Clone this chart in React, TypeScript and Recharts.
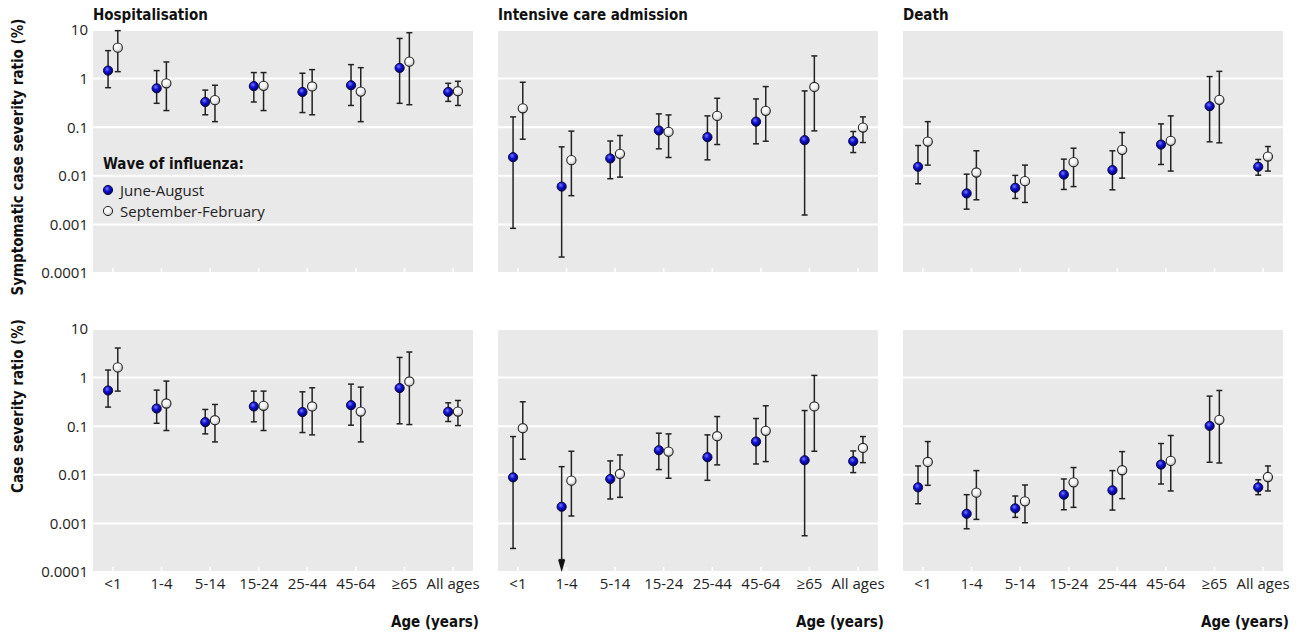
import React from 'react';
import { ScatterChart, Scatter, XAxis, YAxis, CartesianGrid, ErrorBar } from 'recharts';

const ages = ['<1', '1-4', '5-14', '15-24', '25-44', '45-64', '≥65', 'All ages'];
const yTicks = [0.0001, 0.001, 0.01, 0.1, 1, 10];

// [estimate, lower, upper] per age group
const hospSymJune = [[1.46, 0.65, 3.76], [0.63, 0.31, 1.46], [0.33, 0.18, 0.58], [0.7, 0.33, 1.33], [0.53, 0.2, 1.29], [0.73, 0.28, 1.94], [1.66, 0.31, 6.7], [0.53, 0.34, 0.8]];
const hospSymSept = [[4.33, 1.39, 9.7], [0.8, 0.22, 2.2], [0.36, 0.13, 0.73], [0.71, 0.22, 1.33], [0.69, 0.18, 1.53], [0.54, 0.13, 1.68], [2.23, 0.29, 8.8], [0.55, 0.28, 0.88]];
const icuSymJune = [[0.0242, 0.00083, 0.163], [0.006, 0.000213, 0.0394], [0.0227, 0.0087, 0.052], [0.0855, 0.0359, 0.188], [0.0624, 0.0213, 0.171], [0.13, 0.0455, 0.382], [0.054, 0.00156, 0.558], [0.0515, 0.0301, 0.0815]];
const icuSymSept = [[0.245, 0.0566, 0.84], [0.021, 0.0039, 0.083], [0.0283, 0.0094, 0.0674], [0.08, 0.0238, 0.179], [0.171, 0.044, 0.394], [0.217, 0.0515, 0.685], [0.674, 0.084, 2.93], [0.0984, 0.0484, 0.163]];
const deathSymJune = [[0.0153, 0.00686, 0.042], [0.00434, 0.00206, 0.0108], [0.00566, 0.00342, 0.0102], [0.0106, 0.00524, 0.022], [0.0131, 0.00515, 0.0327], [0.044, 0.0171, 0.117], [0.27, 0.05, 1.1], [0.0153, 0.0103, 0.0217]];
const deathSymSept = [[0.0507, 0.0166, 0.13], [0.0117, 0.00321, 0.0327], [0.00776, 0.00283, 0.0166], [0.0191, 0.006, 0.037], [0.0342, 0.00895, 0.0776], [0.0524, 0.0125, 0.171], [0.365, 0.0477, 1.41], [0.0249, 0.0125, 0.04]];
const hospAllJune = [[0.543, 0.247, 1.43], [0.231, 0.115, 0.552], [0.121, 0.0695, 0.221], [0.255, 0.123, 0.527], [0.195, 0.074, 0.51], [0.271, 0.105, 0.734], [0.608, 0.112, 2.6], [0.198, 0.125, 0.303]];
const hospAllSept = [[1.62, 0.527, 4.06], [0.293, 0.0815, 0.847], [0.133, 0.0475, 0.28], [0.263, 0.0815, 0.527], [0.255, 0.0663, 0.617], [0.2, 0.0475, 0.637], [0.834, 0.108, 3.36], [0.2, 0.103, 0.338]];
// 1-4 lower bound runs off the axis: bar stops at the arrow base
const icuAllJune = [[0.00887, 0.000305, 0.0612], [0.0022, 0.00018, 0.0147], [0.0082, 0.00318, 0.0193], [0.032, 0.0128, 0.0718], [0.023, 0.0077, 0.0663], [0.0483, 0.0167, 0.144], [0.0199, 0.000557, 0.21], [0.019, 0.0111, 0.031]];
const icuAllSept = [[0.091, 0.0209, 0.318], [0.00758, 0.00142, 0.0305], [0.0104, 0.00344, 0.0256], [0.03, 0.00848, 0.0695], [0.0622, 0.016, 0.158], [0.0802, 0.0187, 0.263], [0.255, 0.0305, 1.11], [0.0357, 0.0178, 0.0612]];
const deathAllJune = [[0.00552, 0.00254, 0.0152], [0.00158, 0.000776, 0.0039], [0.00204, 0.00133, 0.00366], [0.0039, 0.00191, 0.0082], [0.00479, 0.00188, 0.0122], [0.0162, 0.00647, 0.044], [0.1016, 0.0181, 0.416], [0.00552, 0.0039, 0.0079]];
const deathAllSept = [[0.0184, 0.00608, 0.0483], [0.00429, 0.00121, 0.0122], [0.00284, 0.00103, 0.00617], [0.007, 0.00214, 0.0141], [0.0124, 0.00323, 0.03], [0.0193, 0.00465, 0.0643], [0.135, 0.0175, 0.543], [0.009, 0.00465, 0.0152]];
const icuAllArrows = [1];

const FONT = '"Open Sans", "Noto Sans", sans-serif';
const BOLD = '"DejaVu Sans Condensed", "DejaVu Sans", sans-serif';

const panels = [
  { title: 'Hospitalisation', row: 0, col: 0, june: hospSymJune, sept: hospSymSept, arrows: [] as number[] },
  { title: 'Intensive care admission', row: 0, col: 1, june: icuSymJune, sept: icuSymSept, arrows: [] as number[] },
  { title: 'Death', row: 0, col: 2, june: deathSymJune, sept: deathSymSept, arrows: [] as number[] },
  { title: '', row: 1, col: 0, june: hospAllJune, sept: hospAllSept, arrows: [] as number[] },
  { title: '', row: 1, col: 1, june: icuAllJune, sept: icuAllSept, arrows: icuAllArrows },
  { title: '', row: 1, col: 2, june: deathAllJune, sept: deathAllSept, arrows: [] as number[] },
];

const colLeft = [0, 488, 893];
const rowTop = [20, 319];
const plotLeft = [93, 498, 903];
const PLOT_W = 380;

function toPoints(rows: number[][], shift: number) {
  return rows.map(([v, lo, hi], i) => ({ x: i + shift, y: v, err: [v - lo, hi - v] }));
}

const BlueDot = (p: any) => (
  <circle cx={p.cx} cy={p.cy} r={4.6} fill="url(#gBlue)" stroke="#0a0a40" strokeWidth={1} />
);
const WhiteDot = (p: any) => (
  <circle cx={p.cx} cy={p.cy} r={4.6} fill="url(#gWhite)" stroke="#222" strokeWidth={1.1} />
);
const ArrowDown = (p: any) => (
  <polygon points={`${p.cx - 3.5},${p.cy - 12} ${p.cx + 3.5},${p.cy - 12} ${p.cx},${p.cy}`} fill="#111" />
);

function AgeTick(props: any) {
  const { x, y, payload, showLabel } = props;
  return (
    <g>
      <line x1={x} x2={x} y1={y - 5} y2={y} stroke="#fff" strokeWidth={1.5} />
      {showLabel && (
        <text x={x} y={y + 17} textAnchor="middle" fontFamily={FONT} fontSize={15} fill="#222">
          {ages[payload.value]}
        </text>
      )}
    </g>
  );
}

function Panel({ cfg }: { cfg: typeof panels[number] }) {
  const isLeft = cfg.col === 0;
  const june = toPoints(cfg.june, -0.1);
  const sept = toPoints(cfg.sept, 0.1);
  const arrows = cfg.arrows.map((i) => ({ x: i - 0.1, y: 0.0001 }));
  return (
    <div style={{ position: 'absolute', left: colLeft[cfg.col], top: rowTop[cfg.row] }}>
      <ScatterChart
        width={isLeft ? 483 : 400}
        height={283}
        margin={{ top: 10, right: 10, bottom: 0, left: isLeft ? 0 : 10 }}
      >
        <defs>
          <radialGradient id="gBlue" cx="40%" cy="35%" r="65%">
            <stop offset="0%" stopColor="#7a7aff" />
            <stop offset="45%" stopColor="#1212d6" />
            <stop offset="100%" stopColor="#00006a" />
          </radialGradient>
          <radialGradient id="gWhite" cx="40%" cy="35%" r="65%">
            <stop offset="0%" stopColor="#ffffff" />
            <stop offset="55%" stopColor="#f2f2f2" />
            <stop offset="100%" stopColor="#b8b8b8" />
          </radialGradient>
        </defs>
        <CartesianGrid vertical={false} fill="#e9e9e9" fillOpacity={1} stroke="#ffffff" strokeWidth={2} />
        <XAxis
          type="number"
          dataKey="x"
          domain={[-0.41, 7.41]}
          ticks={[0, 1, 2, 3, 4, 5, 6, 7]}
          allowDataOverflow
          interval={0}
          axisLine={false}
          tickLine={false}
          tickSize={0}
          tickMargin={0}
          height={30}
          tick={(p: any) => <AgeTick {...p} showLabel={cfg.row === 1} />}
        />
        <YAxis
          type="number"
          dataKey="y"
          scale="log"
          domain={[0.0001, 10]}
          ticks={yTicks}
          interval={0}
          hide={!isLeft}
          width={93}
          axisLine={false}
          tickLine={false}
          tickSize={0}
          tickMargin={5}
          tick={{ fontFamily: FONT, fontSize: 15, fill: '#222' }}
          tickFormatter={(v: number) => String(v)}
        />
        <Scatter data={june} shape={BlueDot} isAnimationActive={false}>
          <ErrorBar dataKey="err" direction="y" width={3} stroke="#222" strokeWidth={1.5} />
        </Scatter>
        <Scatter data={sept} shape={WhiteDot} isAnimationActive={false}>
          <ErrorBar dataKey="err" direction="y" width={3} stroke="#222" strokeWidth={1.5} />
        </Scatter>
        {arrows.length > 0 && <Scatter data={arrows} shape={ArrowDown} isAnimationActive={false} />}
      </ScatterChart>
    </div>
  );
}

const boldText: React.CSSProperties = {
  position: 'absolute',
  fontFamily: BOLD,
  fontWeight: 700,
  fontSize: 15,
  color: '#111',
  whiteSpace: 'nowrap',
  lineHeight: '18px',
};

export default function App() {
  return (
    <div style={{ position: 'absolute', left: 0, top: 0, width: 1301, height: 635, background: '#fff' }}>
      {panels.map((cfg, i) => (
        <Panel key={i} cfg={cfg} />
      ))}
      {panels.filter((p) => p.title).map((p) => (
        <div key={p.title} style={{ ...boldText, left: plotLeft[p.col], top: 6 }}>{p.title}</div>
      ))}
      {plotLeft.map((l, i) => (
        <div key={i} style={{ ...boldText, left: l + PLOT_W + 6, top: 622, transform: 'translate(-100%, -50%)' }}>
          Age (years)
        </div>
      ))}
      <div style={{ ...boldText, left: 18, top: 157, transform: 'translate(-50%, -50%) rotate(-90deg)' }}>
        Symptomatic case severity ratio (%)
      </div>
      <div style={{ ...boldText, left: 18, top: 406, transform: 'translate(-50%, -50%) rotate(-90deg)' }}>
        Case severity ratio (%)
      </div>
      <div style={{ ...boldText, left: 103, top: 164, transform: 'translateY(-50%)' }}>Wave of influenza:</div>
      {[
        { label: 'June-August', fill: 'url(#gBlue)', stroke: '#0a0a40', y: 190 },
        { label: 'September-February', fill: 'url(#gWhite)', stroke: '#222', y: 211 },
      ].map((item) => (
        <div
          key={item.label}
          style={{ position: 'absolute', left: 102, top: item.y, transform: 'translateY(-50%)', display: 'flex', alignItems: 'center' }}
        >
          <svg width={12} height={12} style={{ marginRight: 6 }}>
            <circle cx={6} cy={6} r={4.6} fill={item.fill} stroke={item.stroke} strokeWidth={1} />
          </svg>
          <span style={{ fontFamily: FONT, fontSize: 15, color: '#222', lineHeight: '18px' }}>{item.label}</span>
        </div>
      ))}
    </div>
  );
}
